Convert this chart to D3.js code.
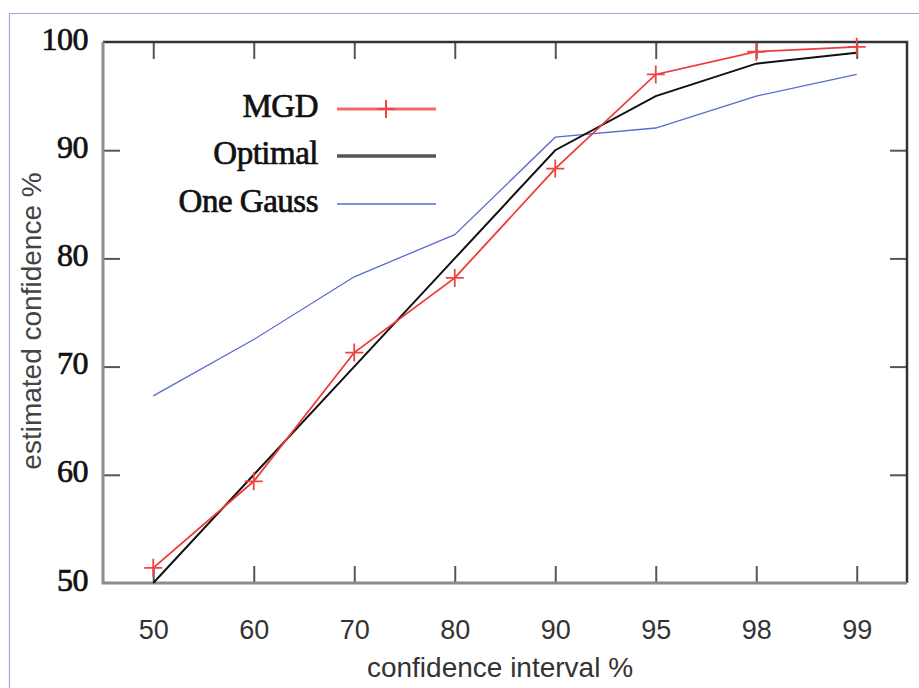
<!DOCTYPE html>
<html>
<head>
<meta charset="utf-8">
<script src="https://cdn.jsdelivr.net/npm/d3@7"></script>
<style>
    body { margin: 0; background: #fff; }
    svg { display: block; }
</style>
</head>
<body>
<svg id="chart" width="919" height="688"></svg>
<script>
// Data
const categories = ["50", "60", "70", "80", "90", "95", "98", "99"];
const mgdValues = [51.4, 59.4, 71.3, 78.2, 88.3, 97.0, 99.1, 99.55];
const optimalValues = [50, 60, 70, 80, 90, 95, 98, 99];
const oneGaussValues = [67.3, 72.5, 78.3, 82.2, 91.2, 92.05, 95.0, 97.0];
const yTickValues = [50, 60, 70, 80, 90, 100];
const seriesNames = ["MGD", "Optimal", "One Gauss"];

const margin = { left: 103, right: 12, top: 42, bottom: 105 };
const width = 919, height = 688;
const drawWidth = width - margin.left - margin.right;
const drawHeight = height - margin.top - margin.bottom;

const serif = "Liberation Serif, Times New Roman, serif";
const sans = "Liberation Sans, Arial, sans-serif";

const svg = d3.select("#chart");

// outer frame (only top and left lines are visible)
svg.append("path")
    .attr("d", "M9.5,688 V13.5 H919")
    .attr("fill", "none")
    .attr("stroke", "#a4a4ec")
    .attr("stroke-width", 1.2);

// Scales
const xScale = d3.scalePoint().domain(categories).range([0, drawWidth]).padding(0.5);
const yScale = d3.scaleLinear().domain([50, 100]).range([drawHeight, 0]);

const g = svg.append("g").attr("transform", `translate(${margin.left},${margin.top})`);

// Axes - ticks point inwards, mirrored on top and right
const tickLen = 17;
const xBottom = g.append("g").attr("transform", `translate(0,${drawHeight})`)
    .call(d3.axisBottom(xScale).tickSize(-tickLen).tickPadding(37));
const xTop = g.append("g")
    .call(d3.axisTop(xScale).tickSize(-tickLen).tickFormat(""));
const yLeft = g.append("g")
    .call(d3.axisLeft(yScale).tickValues(yTickValues).tickSize(-tickLen).tickPadding(15));
const yRight = g.append("g").attr("transform", `translate(${drawWidth},0)`)
    .call(d3.axisRight(yScale).tickValues(yTickValues).tickSize(-tickLen).tickFormat(""));

[xBottom, xTop, yLeft, yRight].forEach((ax) => {
    ax.select(".domain").remove();
    ax.selectAll(".tick line").attr("stroke", "#555").attr("stroke-width", 2);
});
// first / last ticks sit on the frame itself
yLeft.selectAll(".tick line").filter((d) => d === 50 || d === 100).remove();
yRight.selectAll(".tick line").filter((d) => d === 50 || d === 100).remove();

xBottom.selectAll(".tick text")
    .attr("font-family", sans)
    .attr("font-size", 27)
    .attr("fill", "#333");

yLeft.selectAll(".tick text")
    .attr("font-family", serif)
    .attr("font-size", 32)
    .attr("fill", "#111")
    .attr("stroke", "#111").attr("stroke-width", 0.7)
    .attr("letter-spacing", -0.5)
    .attr("dy", "0.22em");

// plot frame: top / right darker, left / bottom grey
g.append("path")
    .attr("d", `M0,0 H${drawWidth} V${drawHeight}`)
    .attr("fill", "none").attr("stroke", "#333").attr("stroke-width", 2.5);
g.append("path")
    .attr("d", `M0,0 V${drawHeight} H${drawWidth}`)
    .attr("fill", "none").attr("stroke", "#8c8c8c").attr("stroke-width", 3);

// Lines
const lineGen = (vals) => d3.line()
    .x((d, i) => xScale(categories[i]))
    .y((d) => yScale(d))(vals);

g.append("path").attr("d", lineGen(oneGaussValues))
    .attr("fill", "none").attr("stroke", "#5a6ad0").attr("stroke-width", 1.3);
g.append("path").attr("d", lineGen(optimalValues))
    .attr("fill", "none").attr("stroke", "#111").attr("stroke-width", 2);
g.append("path").attr("d", lineGen(mgdValues))
    .attr("fill", "none").attr("stroke", "#ee3a3a").attr("stroke-width", 1.8);

// MGD "+" markers
const plus = (s) => `M${-s},0 H${s} M0,${-s} V${s}`;
g.selectAll(".mgd-pt").data(mgdValues).enter().append("path")
    .attr("class", "mgd-pt")
    .attr("transform", (d, i) => `translate(${xScale(categories[i])},${yScale(d)})`)
    .attr("d", plus(9))
    .attr("fill", "none").attr("stroke", "#ee4444").attr("stroke-width", 1.8);

// Legend
const legendColors = ["#f06a6a", "#555", "#5a6ad0"];
const legendWidths = [3, 3.5, 1.3];
const legendY = [109, 156, 204];
const legend = svg.append("g");
seriesNames.forEach((name, i) => {
    legend.append("text")
        .attr("x", 318).attr("y", legendY[i] + 8)
        .attr("text-anchor", "end")
        .attr("font-family", serif)
        .attr("font-size", 33)
        .attr("fill", "#111")
        .attr("stroke", "#111").attr("stroke-width", 0.7)
        .attr("letter-spacing", -0.5)
        .text(name);
    legend.append("line")
        .attr("x1", 337).attr("x2", 436)
        .attr("y1", legendY[i]).attr("y2", legendY[i])
        .attr("stroke", legendColors[i]).attr("stroke-width", legendWidths[i]);
});
legend.append("path")
    .attr("transform", `translate(386,${legendY[0]})`)
    .attr("d", plus(9))
    .attr("stroke", "#ee4444").attr("stroke-width", 2);

// Axis labels
svg.append("text")
    .attr("x", 500).attr("y", 677)
    .attr("text-anchor", "middle")
    .attr("font-family", sans)
    .attr("font-size", 28)
    .attr("fill", "#333")
    .text("confidence interval %");

svg.append("text")
    .attr("transform", "translate(41,321) rotate(-90)")
    .attr("text-anchor", "middle")
    .attr("font-family", sans)
    .attr("font-size", 28)
    .attr("fill", "#444")
    .text("estimated confidence %");
</script>
</body>
</html>
